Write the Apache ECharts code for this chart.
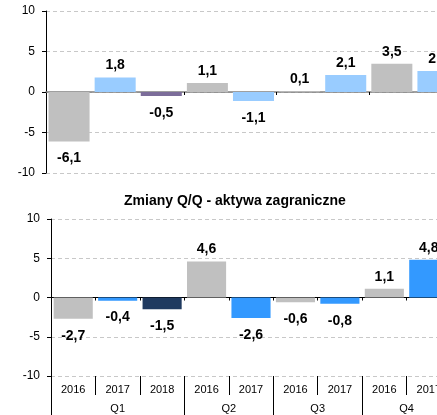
<!DOCTYPE html>
<html>
<head>
<meta charset="utf-8">
<script src="https://cdn.jsdelivr.net/npm/echarts@6/dist/echarts.min.js"></script>
<style>
  html, body { margin: 0; padding: 0; background: #fff; }
  #chart { width: 437px; height: 415px; }
</style>
</head>
<body>
<div id="chart"></div>
<script>
// dane
const years = ['2016', '2017', '2018', '2016', '2017', '2016', '2017', '2016', '2017']
const quarters = ['Q1', 'Q2', 'Q3', 'Q4']
const quarterCenters = [1.5, 4, 6, 8]
const quarterBounds = [0, 3, 5, 7, 9]
const topValues = [-6.1, 1.8, -0.5, 1.1, -1.1, 0.1, 2.1, 3.5, 2.6]
const bottomValues = [-2.7, -0.4, -1.5, 4.6, -2.6, -0.6, -0.8, 1.1, 4.8]
const bottomTitle = 'Zmiany Q/Q - aktywa zagraniczne'

const GRAY = '#c0c0c0'
const topColors = [GRAY, '#99ccff', '#7c6d9a', GRAY, '#99ccff', GRAY, '#99ccff', GRAY, '#99ccff']
const bottomColors = [GRAY, '#3399ff', '#1f3a60', GRAY, '#3399ff', GRAY, '#3399ff', GRAY, '#3399ff']

const FONT = 'Liberation Sans, Arial, sans-serif'

const toItems = (values, colors) =>
  values.map((v, i) => ({
    value: v,
    itemStyle: { color: colors[i] },
    label: v >= 0 ? { position: 'top', distance: 5 } : { position: 'bottom', distance: 10 },
  }))

const barLabel = {
  show: true,
  fontFamily: FONT,
  fontWeight: 'bold',
  fontSize: 14,
  color: '#000',
  formatter: (p) => String(p.value).replace('.', ','),
}

const yAxisBase = (gridIndex) => ({
  type: 'value',
  gridIndex,
  min: -10,
  max: 10,
  interval: 5,
  axisLine: { show: true, lineStyle: { color: '#000', width: 1 } },
  axisTick: { show: true, length: 4, lineStyle: { color: '#000' } },
  axisLabel: { fontFamily: FONT, fontSize: 12, color: '#000', margin: 11 },
  splitLine: { show: true, lineStyle: { type: [4, 3], color: '#c8c8c8' } },
})

const chart = echarts.init(document.getElementById('chart'))

const option = {
  animation: false,
  title: {
    text: bottomTitle,
    left: 119,
    top: 189,
    textStyle: { fontFamily: FONT, fontSize: 14, fontWeight: 'bold', color: '#000' },
  },
  grid: [
    { left: 46, top: 11, width: 415, height: 162, outerBoundsMode: 'none' },
    { left: 51, top: 219, width: 400, height: 157, outerBoundsMode: 'none' },
  ],
  xAxis: [
    // górny wykres - linia zera
    {
      type: 'category',
      gridIndex: 0,
      data: years,
      axisLine: { onZero: true, lineStyle: { color: '#808080', width: 1.5 } },
      axisTick: {
        show: true,
        length: 3,
        interval: (i) => i === 3 || i === 5 || i === 7,
        lineStyle: { color: '#000' },
      },
      axisLabel: { show: false },
      splitLine: { show: false },
    },
    // dolny wykres - linia zera
    {
      type: 'category',
      gridIndex: 1,
      data: years,
      axisLine: { onZero: true, lineStyle: { color: '#000', width: 1 } },
      axisTick: { show: true, length: 3, interval: 0, lineStyle: { color: '#000' } },
      axisLabel: { show: false },
      splitLine: { show: false },
    },
    // dolny wykres - lata
    {
      type: 'category',
      gridIndex: 1,
      data: years,
      position: 'bottom',
      axisLine: { show: false, onZero: false },
      axisTick: { show: true, length: 19, interval: 0, lineStyle: { color: '#000' } },
      axisLabel: { fontFamily: FONT, fontSize: 11, color: '#000', margin: 8, interval: 0 },
      splitLine: { show: false },
    },
    // dolny wykres - kwartały
    {
      type: 'value',
      gridIndex: 1,
      min: 0,
      max: 9,
      position: 'bottom',
      axisLine: { show: false, onZero: false },
      axisTick: {
        show: true,
        length: 40,
        customValues: quarterBounds,
        lineStyle: { color: '#000' },
      },
      axisLabel: {
        fontFamily: FONT,
        fontSize: 11,
        color: '#000',
        margin: 27,
        customValues: quarterCenters,
        formatter: (v) => quarters[quarterCenters.indexOf(v)],
      },
      splitLine: { show: false },
    },
  ],
  yAxis: [yAxisBase(0), yAxisBase(1)],
  series: [
    {
      type: 'bar',
      xAxisIndex: 0,
      yAxisIndex: 0,
      barCategoryGap: '11%',
      data: toItems(topValues, topColors),
      label: barLabel,
    },
    {
      type: 'bar',
      xAxisIndex: 1,
      yAxisIndex: 1,
      barCategoryGap: '12%',
      data: toItems(bottomValues, bottomColors),
      label: barLabel,
    },
  ],
}

chart.setOption(option)
</script>
</body>
</html>
